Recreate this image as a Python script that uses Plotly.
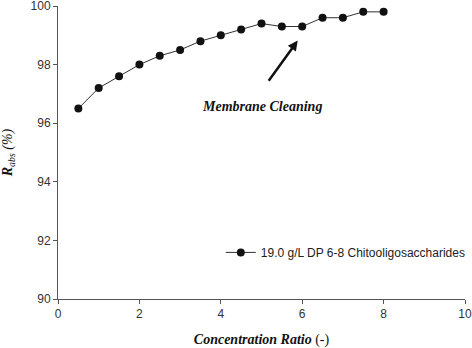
import plotly.graph_objects as go

conc_ratio = [0.5, 1.0, 1.5, 2.0, 2.5, 3.0, 3.5, 4.0, 4.5, 5.0, 5.5, 6.0, 6.5, 7.0, 7.5, 8.0]
r_abs = [96.5, 97.2, 97.6, 98.0, 98.3, 98.5, 98.8, 99.0, 99.2, 99.4, 99.3, 99.3, 99.6, 99.6, 99.8, 99.8]
series_name = "19.0 g/L DP 6-8 Chitooligosaccharides"
x_ticks = [0, 2, 4, 6, 8, 10]
y_ticks = [90, 92, 94, 96, 98, 100]

serif = "Liberation Serif, Times New Roman, serif"
sans = "Liberation Sans, Arial, sans-serif"

fig = go.Figure()
fig.add_trace(go.Scatter(
    x=conc_ratio, y=r_abs, mode="lines+markers", name=series_name,
    line=dict(color="#333333", width=1),
    marker=dict(color="#111111", size=8, symbol="circle"),
    cliponaxis=False,
))

fig.add_annotation(
    x=5.89, y=98.82, ax=5.15, ay=97.4, xref="x", yref="y", axref="x", ayref="y",
    showarrow=True, arrowhead=2, arrowsize=0.8, arrowwidth=2.5, arrowcolor="#111111", text="",
)
fig.add_annotation(
    x=5.01, y=96.56, xref="x", yref="y", showarrow=False,
    text="<b><i>Membrane Cleaning</i></b>",
    font=dict(family=serif, size=14, color="#111111"),
)

fig.update_layout(
    width=472, height=348,
    margin=dict(l=58, r=7, t=6, b=49, autoexpand=False),
    paper_bgcolor="white", plot_bgcolor="white",
    showlegend=True,
    legend=dict(x=0.40, y=0.159, xanchor="left", yanchor="middle",
                font=dict(family=sans, size=12, color="#222222"),
                bgcolor="rgba(0,0,0,0)"),
    xaxis=dict(range=[0, 10], tickvals=x_ticks, showgrid=False, zeroline=False,
               showline=True, linecolor="#555555", linewidth=1,
               ticks="outside", ticklen=4, tickcolor="#555555", automargin=False,
               ticklabeloverflow="allow",
               tickfont=dict(family=sans, size=12, color="#333333"),
               title=dict(text="<b><i>Concentration Ratio</i></b> (-)",
                          font=dict(family=serif, size=14, color="#111111"), standoff=14)),
    yaxis=dict(range=[90, 100], tickvals=y_ticks, showgrid=False, zeroline=False,
               showline=True, linecolor="#555555", linewidth=1,
               ticks="outside", ticklen=4, tickcolor="#555555", automargin=False,
               ticklabeloverflow="allow",
               tickfont=dict(family=sans, size=12, color="#333333"),
               title=dict(text="<b><i>R</i></b><sub><i>abs</i></sub> <i>(%)</i>",
                          font=dict(family=serif, size=14, color="#111111"), standoff=18)),
)

fig.write_html("out.html", config={"displayModeBar": False},
               post_script="document.body.style.margin='0';")
